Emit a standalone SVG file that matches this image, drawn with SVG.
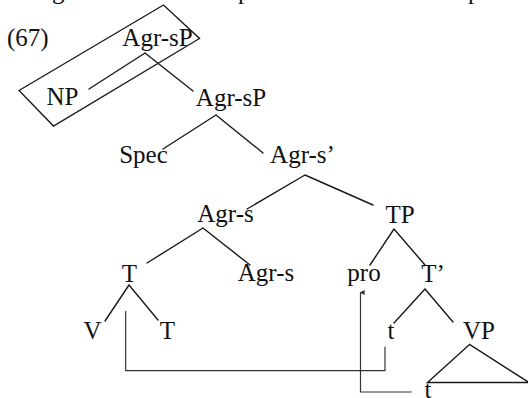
<svg xmlns="http://www.w3.org/2000/svg" width="528" height="398" viewBox="0 0 528 398">
  <style>
    .lbl { font-family: "Liberation Serif", "DejaVu Serif", serif; font-size: 25px; fill: #111; text-anchor: middle; }
    .num { text-anchor: start; }
    .edge { stroke: #1a1a1a; stroke-width: 1.4; fill: none; stroke-linecap: round; }
    .move { stroke: #333; stroke-width: 1.2; fill: none; }
    .box { stroke: #1a1a1a; stroke-width: 1.4; fill: none; stroke-linejoin: miter; }
  </style>
  <defs>
    <marker id="tip" viewBox="0 0 6 6" refX="3" refY="1" markerWidth="5" markerHeight="5" orient="auto-start-reverse" markerUnits="userSpaceOnUse">
      <path d="M0,6 L3,0 L6,6 Z" fill="#333"/>
    </marker>
  </defs>
  <rect width="528" height="398" fill="#fff"/>

  <!-- descenders of the running text line above -->
  <g id="running-text">
    <text class="lbl num" x="52" y="-1">g</text>
    <text class="lbl num" x="238" y="-1">p</text>
    <text class="lbl num" x="468" y="-1">p</text>
  </g>

  <g id="example-number"><text class="lbl num" x="7" y="46">(67)</text></g>

  <!-- tree branches and movement lines -->
  <g id="connectors">
    <path class="edge" d="M145,53 L89,89 M145,53 L193,91"/>
    <path class="edge" d="M216,115 L163,149 M216,115 L263,153"/>
    <path class="edge" d="M305,175 L247,209 M305,175 L373,205"/>
    <path class="edge" d="M203,228 L147,263 M203,228 L250,265"/>
    <path class="edge" d="M394,229 L370,265 M394,229 L425,265"/>
    <path class="edge" d="M129,285 L105,321 M129,285 L158,320"/>
    <path class="edge" d="M425,289 L394,323 M425,289 L453,322"/>
    <path class="edge" d="M469.5,344.5 L427.5,382.5 L529,382.5 Z"/>
    <path class="move" d="M125.7,311 V370.7 H385 V346.7"/>
    <path class="move" d="M411.7,392 H360.5 V292.5" marker-end="url(#tip)"/>
  </g>

  <g id="box"><polygon class="box" points="19,90.5 163.5,5 199.5,38.5 53.5,126"/></g>

  <g id="agrsp-top"><text class="lbl" x="157.5" y="46">Agr-sP</text></g>
  <g id="np"><text class="lbl" x="62.5" y="105">NP</text></g>
  <g id="agrsp"><text class="lbl" x="231" y="106">Agr-sP</text></g>
  <g id="spec"><text class="lbl" x="143.5" y="163">Spec</text></g>
  <g id="agrs-bar"><text class="lbl" x="302.5" y="163">Agr-s’</text></g>
  <g id="agrs"><text class="lbl" x="225.5" y="222">Agr-s</text></g>
  <g id="tp"><text class="lbl" x="400" y="223">TP</text></g>
  <g id="t-head"><text class="lbl" x="129.5" y="282">T</text></g>
  <g id="agrs-low"><text class="lbl" x="266" y="281">Agr-s</text></g>
  <g id="pro"><text class="lbl" x="364" y="281">pro</text></g>
  <g id="t-bar"><text class="lbl" x="433" y="282">T’</text></g>
  <g id="v"><text class="lbl" x="92.5" y="339">V</text></g>
  <g id="t-low"><text class="lbl" x="167.5" y="339">T</text></g>
  <g id="trace-t"><text class="lbl" x="391" y="339">t</text></g>
  <g id="vp"><text class="lbl" x="479" y="339">VP</text></g>
  <g id="trace-bottom"><text class="lbl" x="428" y="398">t</text></g>
</svg>
